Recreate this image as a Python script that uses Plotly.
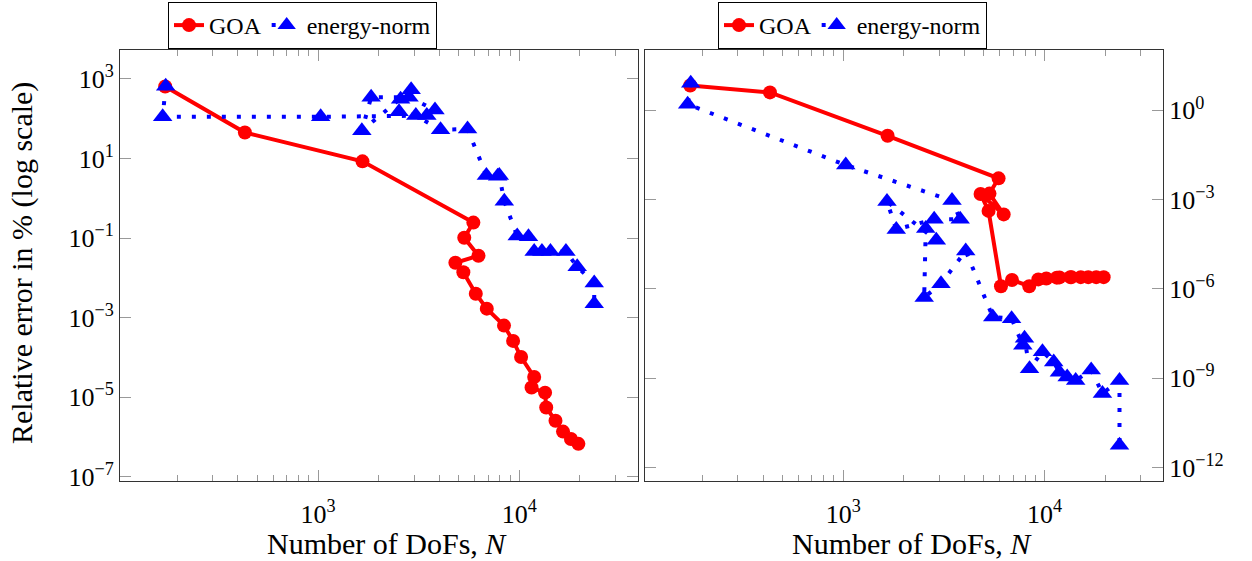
import plotly.graph_objects as go

# ---------------- data ----------------
N_goa = [174, 433, 1662, 5910, 5325, 6265, 4810, 5270, 6075, 6890, 8390, 9310,
         10200, 11850, 11500, 13420, 13600, 15120, 16480, 18050, 19650]
goa_left = [650, 45, 8.5, 0.245, 0.102, 0.036, 0.024, 0.0138, 0.004, 0.00168,
            6.3e-4, 2.6e-4, 1.02e-4, 3.2e-5, 1.75e-5, 1.3e-5, 5.5e-6, 2.55e-6,
            1.36e-6, 8.9e-7, 6.7e-7]
goa_right = [6.8, 4.0, 0.14, 5.2e-3, 1.6e-3, 3.2e-4, 1.55e-3, 4.2e-4, 1.24e-6,
             2.0e-6, 1.24e-6, 2.1e-6, 2.24e-6, 2.45e-6, 2.4e-6, 2.5e-6, 2.5e-6,
             2.5e-6, 2.5e-6, 2.5e-6, 2.5e-6]

N_en = [175, 169, 1030, 3470, 3810, 2830, 1835, 1650, 2900, 2570, 2525, 3060,
        4060, 5530, 6860, 7800, 7950, 8420, 9760, 11100, 11850, 12950, 14270,
        17040, 19380, 23550, 23550]
en_left = [660, 112, 112, 120, 165, 350, 347, 50, 540, 310, 150, 120, 53, 55,
           3.76, 3.6, 3.76, 0.84, 0.112, 0.108, 0.046, 0.046, 0.046, 0.046,
           0.019, 0.0074, 0.00224]
en_right = [8.1, 1.6, 1.45e-2, 9.3e-4, 2.2e-4, 2.2e-4, 1.0e-4, 8.7e-4, 4.3e-5,
            1.07e-4, 5.2e-7, 1.5e-6, 1.9e-5, 1.15e-7, 1.0e-7, 1.3e-8, 2.2e-8,
            2.1e-9, 7.8e-9, 3.5e-9, 1.6e-9, 1.1e-9, 8.5e-10, 1.9e-9, 3.1e-10,
            8.5e-10, 5.6e-12]

x_tickvals = [1e3, 1e4]
x_ticktext = ["10<sup>3</sup>", "10<sup>4</sup>"]
yl_tickvals = [1e3, 1e1, 1e-1, 1e-3, 1e-5, 1e-7]
yl_ticktext = ["10<sup>3</sup>", "10<sup>1</sup>", "10<sup>−1</sup>",
               "10<sup>−3</sup>", "10<sup>−5</sup>", "10<sup>−7</sup>"]
yr_tickvals = [1e0, 1e-3, 1e-6, 1e-9, 1e-12]
yr_ticktext = ["10<sup>0</sup>", "10<sup>−3</sup>", "10<sup>−6</sup>",
               "10<sup>−9</sup>", "10<sup>−12</sup>"]
x_minor = [m * 10 ** k for k in (2, 3) for m in range(2, 10)] + [2e4, 3e4]

FONT = "Liberation Serif"
RED = "#ff0000"
BLUE = "#0000ff"
TICK_FS = 26
TITLE_FS = 30
LEG_FS = 24

fig = go.Figure()

def add(xs, ys, name, color, symbol, dash, xa, ya, legend):
    fig.add_trace(go.Scatter(
        x=xs, y=ys, name=name, mode="lines+markers",
        line=dict(color=color, width=4, dash=dash),
        marker=dict(color=color, symbol=symbol,
                    size=14 if symbol == "circle" else 17, line=dict(width=0)),
        xaxis=xa, yaxis=ya, legend=legend))

add(N_goa, goa_left, "GOA", RED, "circle", "solid", "x", "y", "legend")
add(N_en, en_left, "energy-norm", BLUE, "triangle-up", "4px,11px", "x", "y", "legend")
add(N_goa, goa_right, "GOA", RED, "circle", "solid", "x2", "y2", "legend2")
add(N_en, en_right, "energy-norm", BLUE, "triangle-up", "4px,11px", "x2", "y2", "legend2")

# plot area: x 120..1163, y 50..481
L, R, T, B = 120, 1252 - 1163, 50, 561 - 481
W = 1252 - L - R
H = 561 - T - B

def px(x):
    return (x - L) / W

def py(y):
    return (561 - B - y) / H

axis_common = dict(
    type="log", showgrid=False, zeroline=False, showline=True,
    linecolor="#333333", linewidth=1, mirror="allticks", ticks="inside",
    ticklen=11, tickcolor="#999999", tickwidth=1,
    tickfont=dict(family=FONT, size=TICK_FS, color="black"),
)
xminor = dict(tickmode="array", tickvals=x_minor, ticks="inside", ticklen=6,
              tickcolor="#999999", tickwidth=1, showgrid=False)

legend_common = dict(orientation="h", xref="container", yref="container",
                     xanchor="left", yanchor="top", bordercolor="black",
                     borderwidth=1, bgcolor="white",
                     font=dict(family=FONT, size=LEG_FS),
                     itemwidth=30, tracegroupgap=0)

fig.update_layout(
    width=1252, height=561,
    margin=dict(l=L, r=R, t=T, b=B, autoexpand=False),
    paper_bgcolor="white", plot_bgcolor="white",
    font=dict(family=FONT, size=TITLE_FS, color="black"),
    xaxis=dict(axis_common, domain=[0, px(637.7)], range=[2.016, 4.588],
               tickmode="array", tickvals=x_tickvals, ticktext=x_ticktext,
               minor=xminor, anchor="y", ticklabelstandoff=10),
    xaxis2=dict(axis_common, domain=[px(645), 1], range=[2.016, 4.588],
                tickmode="array", tickvals=x_tickvals, ticktext=x_ticktext,
                minor=xminor, anchor="y2", ticklabelstandoff=10),
    yaxis=dict(axis_common, range=[-7.108, 3.729], tickmode="array",
               tickvals=yl_tickvals, ticktext=yl_ticktext, anchor="x"),
    yaxis2=dict(axis_common, range=[-12.45, 2.027], tickmode="array",
                tickvals=yr_tickvals, ticktext=yr_ticktext, anchor="x2",
                side="right"),
    legend=dict(legend_common, x=168 / 1252, y=1 - 2 / 561),
    legend2=dict(legend_common, x=718 / 1252, y=1 - 2 / 561),
    showlegend=True,
    annotations=[
        dict(text="Number of DoFs, <i>N</i>", x=px(387), y=py(543),
             xref="paper", yref="paper", showarrow=False,
             xanchor="center", yanchor="middle",
             font=dict(family=FONT, size=TITLE_FS)),
        dict(text="Number of DoFs, <i>N</i>", x=px(912), y=py(543),
             xref="paper", yref="paper", showarrow=False,
             xanchor="center", yanchor="middle",
             font=dict(family=FONT, size=TITLE_FS)),
        dict(text="Relative error in % (log scale)", x=px(22), y=py(263),
             xref="paper", yref="paper", showarrow=False, textangle=-90,
             xanchor="center", yanchor="middle",
             font=dict(family=FONT, size=TITLE_FS)),
    ],
)

fig.write_html("out.html")
